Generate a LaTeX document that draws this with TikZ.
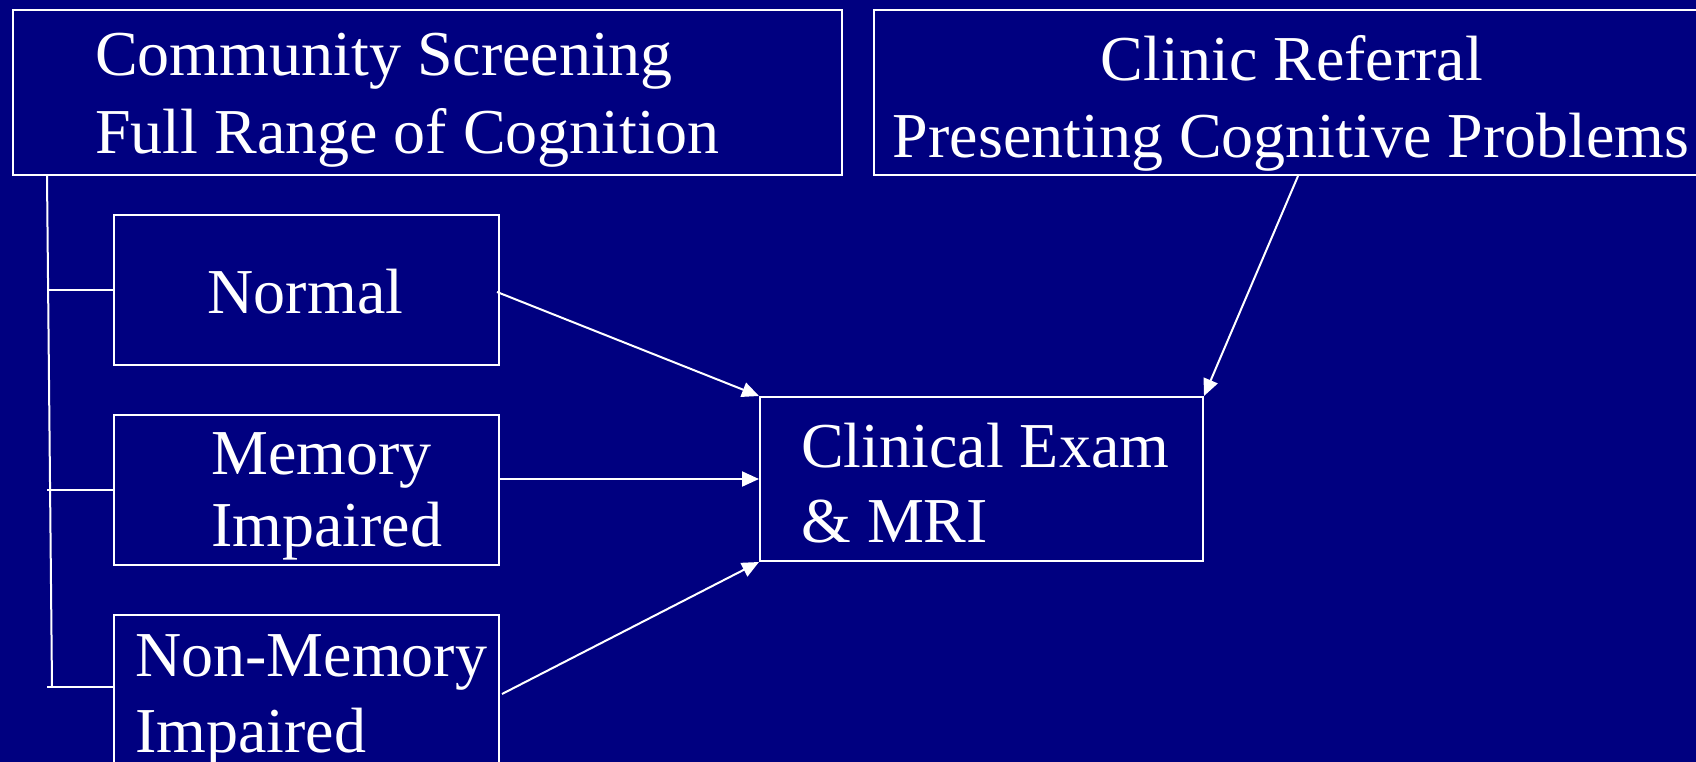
\documentclass[tikz,border=0pt]{standalone}
\usepackage{fontspec}
\setmainfont{Liberation Serif}
\usetikzlibrary{arrows.meta,calc}
\definecolor{slidebg}{RGB}{0,0,128}
\tikzset{
  box/.style={draw=white, line width=2pt, inner sep=0pt, rectangle},
  txt/.style={text=white, inner sep=0pt, font=\fontsize{64}{76}\selectfont},
  link/.style={draw=white, line width=2pt},
  flow/.style={link, -{Triangle[length=17pt,width=15pt]}},
}
\begin{document}
\begin{tikzpicture}[x=1pt,y=-1pt]
\fill[slidebg] (0,0) rectangle (1696,762);
\useasboundingbox (0,0) rectangle (1696,762);

% boxes (the referral box runs past the right edge of the slide)
\node[box, minimum width=829pt, minimum height=165pt] (community) at (427.5,92.5) {};
\node[box, minimum width=830pt, minimum height=165pt] (clinic) at (1289,92.5) {};
\node[box, minimum width=385pt, minimum height=150pt] (normal) at (306.5,290) {};
\node[box, minimum width=385pt, minimum height=150pt] (memory) at (306.5,490) {};
\node[box, minimum width=385pt, minimum height=150pt] (nonmem) at (306.5,690) {};
\node[box, minimum width=443pt, minimum height=164pt] (clinical) at (981.5,479) {};

% texts
\node[txt, anchor=base west] (communityA) at (95,76) {Community Screening};
\node[txt, anchor=base west] (communityB) at (95,154) {Full Range of Cognition};
\node[txt, anchor=base] (clinicA) at (1292,81) {Clinic Referral};
\node[txt, anchor=base] (clinicB) at (1291,158) {Presenting Cognitive Problems};
\node[txt, anchor=base] (normalA) at (305.5,313) {Normal};
\node[txt, anchor=base west] (memoryA) at (211,474) {Memory};
\node[txt, anchor=base west] (memoryB) at (211,546) {Impaired};
\node[txt, anchor=base west] (nonmemA) at (135,676) {Non-Memory};
\node[txt, anchor=base west] (nonmemB) at (135,752) {Impaired};
\node[txt, anchor=base west] (clinicalA) at (801,467) {Clinical Exam};
\node[txt, anchor=base west] (clinicalB) at (801,542) {\& MRI};

% screening tree on the left
\coordinate (trunktop) at ([xshift=35pt]community.south west);
\coordinate (trunkbot) at (52,686);
\draw[link] (trunktop) -- (trunkbot);
\draw[link] (47,290) -- (normal.west);
\draw[link] (47,490) -- (memory.west);
\draw[link] (47,687) -- (47,687 -| nonmem.west);

% flows into the clinical exam
\draw[flow] ([xshift=-3pt,yshift=-2pt]normal.east) -- (clinical.north west);
\draw[flow] (memory.east |- clinical.west) -- (clinical.west);
\draw[flow] ([xshift=2pt,yshift=-4pt]nonmem.east) -- (clinical.south west);
\draw[flow] ([xshift=9pt]clinic.south) -- (clinical.north east);
\end{tikzpicture}
\end{document}
